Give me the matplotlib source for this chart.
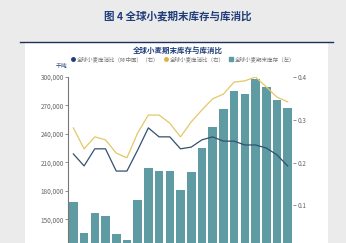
import numpy as np
import matplotlib
matplotlib.use("Agg")
from matplotlib import pyplot as plt
from matplotlib.lines import Line2D
from matplotlib.patches import Patch
from matplotlib.ticker import FuncFormatter

plt.rcParams['font.family'] = ['Noto Sans CJK SC', 'DejaVu Sans']

# valeurs
stocks = [168400, 135800, 156800, 153700, 134700, 128400, 170500, 204200, 201000, 201000,
          181000, 200000, 225300, 247400, 266300, 285300, 282100, 297900, 289500, 275800, 267400]
ratio_total = [0.281, 0.232, 0.260, 0.253, 0.222, 0.211, 0.269, 0.311, 0.311, 0.292,
               0.260, 0.295, 0.323, 0.349, 0.360, 0.388, 0.391, 0.400, 0.377, 0.353, 0.342]
ratio_hors_chine = [0.220, 0.192, 0.232, 0.232, 0.180, 0.180, 0.229, 0.281, 0.260, 0.260,
                    0.232, 0.236, 0.253, 0.260, 0.250, 0.250, 0.241, 0.241, 0.234, 0.218, 0.192]
left_ticks = [150000, 180000, 210000, 240000, 270000, 300000]
right_ticks = [0.1, 0.2, 0.3, 0.4]
labels = ["全球小麦库消比（除中国）（右）", "全球小麦库消比（右）", "全球小麦期末库存（左）"]

W, H = 346, 243
fig = plt.figure(figsize=(W / 100, H / 100), dpi=100)
fig.patch.set_facecolor("#ebebeb")

def px(x0, y0, x1, y1):
    return [x0 / W, 1 - y1 / H, (x1 - x0) / W, (y1 - y0) / H]

# panneau blanc + trait bleu
panel = fig.add_axes(px(25, 43, 328, 243))
panel.set_facecolor("white")
panel.set_xticks([]); panel.set_yticks([])
for s in panel.spines.values():
    s.set_visible(False)
fig.add_artist(plt.Line2D([20 / W, 333 / W], [1 - 42.5 / H] * 2, color="#1f2f5c", lw=1.0))

fig.text(178 / W, 1 - 16 / H, "图 4 全球小麦期末库存与库消比", ha="center", va="center",
         fontsize=7.6, fontweight="bold", color="#1f3d7a")
fig.text(178 / W, 1 - 50 / H, "全球小麦期末库存与库消比", ha="center", va="center",
         fontsize=5.4, fontweight="bold", color="#1f3d7a")

ax = fig.add_axes(px(68, 77, 293, 248))
ax.set_facecolor("none")
x = np.arange(len(stocks))
ax.bar(x, stocks, width=0.8, color="#5e9ba3", zorder=1)
ax.set_xlim(-0.5, len(stocks) - 0.5)
ax.set_ylim(120000, 300000)
ax.set_yticks(left_ticks)
ax.yaxis.set_major_formatter(FuncFormatter(lambda v, p: f"{int(v):,}"))
ax.set_xticks([])
ax.tick_params(axis="y", labelsize=4.6, colors="#666666", length=2, width=0.5, pad=1)
for s in ["top", "right", "bottom"]:
    ax.spines[s].set_visible(False)
ax.spines["left"].set_color("#777777")
ax.spines["left"].set_linewidth(0.8)

ax2 = ax.twinx()
ax2.plot(x, ratio_hors_chine, color="#34506e", lw=0.9, zorder=3)
ax2.plot(x, ratio_total, color="#e3c866", lw=0.9, zorder=3)
ax2.set_ylim(0, 0.4)
ax2.set_yticks(right_ticks)
ax2.yaxis.set_major_formatter(FuncFormatter(lambda v, p: f"{v:.1f}"))
ax2.tick_params(axis="y", labelsize=4.6, colors="#666666", length=2, width=0.5, pad=1)
for s in ax2.spines.values():
    s.set_visible(False)

fig.text(62 / W, 1 - 66 / H, "千吨", ha="center", va="center", fontsize=4.2, color="#1f3d7a")

handles = [Line2D([], [], ls="none", marker="o", ms=2.5, color="#1f3d7a"),
           Line2D([], [], ls="none", marker="o", ms=2.5, color="#e0b040"),
           Patch(color="#5e9ba3")]
fig.legend(handles, labels, loc="center", bbox_to_anchor=(183 / W, 1 - 59 / H),
           ncol=3, frameon=False, fontsize=4.0, handlelength=0.8, handleheight=0.6,
           handletextpad=0.3, columnspacing=0.8, labelcolor="#777777")

fig.savefig("out.png", dpi=100, facecolor=fig.get_facecolor())
